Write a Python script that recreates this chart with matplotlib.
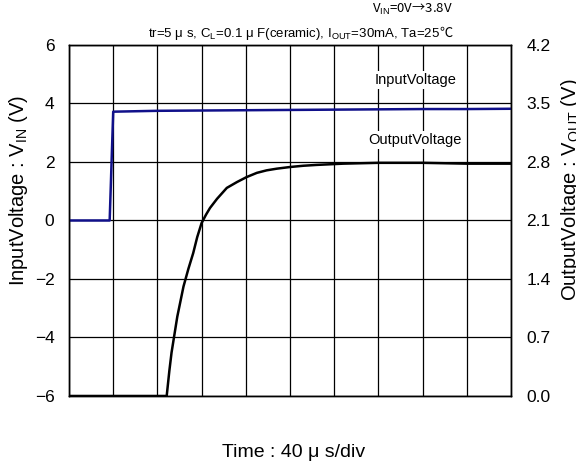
import matplotlib
matplotlib.use("Agg")
import matplotlib.pyplot as plt

plt.rcParams['font.family'] = ['Liberation Sans', 'Noto Sans CJK JP', 'DejaVu Sans']
plt.rcParams['mathtext.fontset'] = 'custom'
plt.rcParams['mathtext.rm'] = 'Liberation Sans'

# time in divisions (40 us/div)
t_in = [0, 0.5, 0.92, 1.0, 2.0, 3.0, 4.0, 5.0, 6.0, 7.0, 8.0, 9.0, 10.0]
v_in = [0.0, 0.0, 0.0, 3.72, 3.75, 3.76, 3.77, 3.78, 3.79, 3.80, 3.81, 3.81, 3.82]

t_out = [0, 1.0, 2.0, 2.21, 2.27, 2.32, 2.45, 2.59, 2.70, 2.81, 2.90, 3.00, 3.10, 3.19,
         3.35, 3.57, 3.80, 4.02, 4.25, 4.47, 4.70, 5.00, 5.30, 5.60, 6.20, 7.0, 8.0, 9.0, 10.0]
v_out = [0.0, 0.0, 0.0, 0.0, 0.30, 0.52, 0.95, 1.31, 1.52, 1.71, 1.90, 2.07, 2.17, 2.25,
         2.36, 2.49, 2.56, 2.62, 2.67, 2.70, 2.72, 2.74, 2.755, 2.765, 2.78, 2.79, 2.79, 2.78, 2.78]

left_ticks = [-6, -4, -2, 0, 2, 4, 6]
right_ticks = [0.0, 0.7, 1.4, 2.1, 2.8, 3.5, 4.2]

fig = plt.figure(figsize=(5.76, 4.62), dpi=100)
ax = fig.add_axes([0.1198, 0.1429, 0.7674, 0.7597])
ax2 = ax.twinx()

ax.set_xlim(0, 10)
ax.set_ylim(-6, 6)
ax2.set_ylim(0, 4.2)
ax.set_xticks(range(11))
ax.set_xticklabels([])
ax.set_yticks(left_ticks)
ax2.set_yticks(right_ticks)
ax2.set_yticklabels([f"{v:.1f}" for v in right_ticks])
ax.tick_params(length=0, labelsize=12.5, pad=10.5)
ax2.tick_params(length=0, labelsize=12.5, pad=11)
ax.grid(True, color='black', lw=0.9)
for a in (ax, ax2):
    for s in a.spines.values():
        s.set_linewidth(1.0)

ax.plot(t_in, v_in, color='#10108a', lw=1.8, zorder=3)
ax2.plot(t_out, v_out, color='black', lw=1.8, zorder=3)

bbox = dict(facecolor='white', edgecolor='none', pad=1.5)
ax.text(7.83, 4.80, "InputVoltage", ha='center', va='center', fontsize=10.5, bbox=bbox, zorder=2)
ax.text(7.83, 2.75, "OutputVoltage", ha='center', va='center', fontsize=10.5, bbox=bbox, zorder=2)

ax.set_ylabel("InputVoltage : V$_{\\mathrm{IN}}$ (V)", fontsize=14.5)
ax.yaxis.set_label_coords(-0.088, 0.587)
ax2.set_ylabel("OutputVoltage : V$_{\\mathrm{OUT}}$ (V)", fontsize=14.5)
ax2.yaxis.set_label_coords(1.108, 0.587)
ax.set_xlabel("Time : 40 μ s/div", fontsize=14)
ax.xaxis.set_label_coords(0.508, -0.137)

jp = ['Noto Sans CJK JP', 'DejaVu Sans']
fig.text(453 / 576, 1 - 9 / 462, "V$_{\\mathrm{IN}}$=0V→3.8V", ha='right', va='center',
         fontsize=9.5, family=jp)

# condition line: the degree sign comes from the CJK font, the rest in Liberation
y_cond = 1 - 37 / 462
deg = fig.text(453 / 576, y_cond, "℃", ha='right', va='baseline', fontsize=9.5, family=jp)
fig.canvas.draw()
x_left = fig.transFigure.inverted().transform(
    (deg.get_window_extent().x0, 0))[0]
fig.text(x_left, y_cond,
         "tr=5 μ s, C$_{\\mathrm{L}}$=0.1 μ F(ceramic), I$_{\\mathrm{OUT}}$=30mA, Ta=25",
         ha='right', va='baseline', fontsize=9.5)

fig.text(287 / 576, 1.0 + 5 / 462, "XC6505x251xx", ha='center', va='center',
         fontsize=13, fontweight='bold')

fig.savefig("out.png", dpi=100)
